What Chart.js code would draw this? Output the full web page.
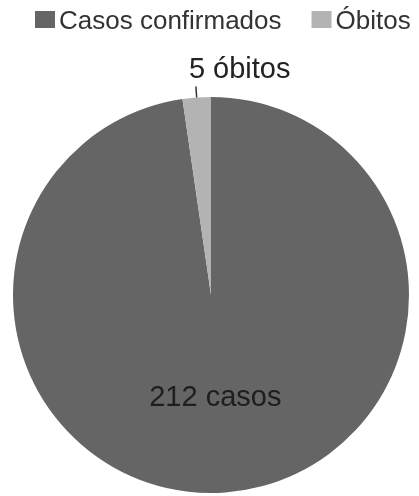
<!DOCTYPE html>
<html><head><meta charset="utf-8">
<script src="https://cdn.jsdelivr.net/npm/chart.js@4"></script>
<style>html,body{margin:0;padding:0;background:#fff}#wrap{width:419px;height:496px}</style>
</head><body><div id="wrap"><canvas id="c" width="419" height="496"></canvas></div>
<script>
const categories = ["Casos confirmados", "Óbitos"];
const values = [212, 5];
const sliceLabels = ["212 casos", "5 óbitos"];
const colors = ["#656565", "#b3b3b3"];
const FONT = "'Liberation Sans', Arial, sans-serif";

const labelPlugin = {
  id: 'customLabels',
  afterDraw(chart) {
    const ctx = chart.ctx;
    const meta = chart.getDatasetMeta(0);
    // legend
    ctx.save();
    ctx.font = "26px " + FONT;
    ctx.textBaseline = "alphabetic";
    let x = 35;
    const boxY = 11, boxW = 20, boxH = 17, base = 29;
    categories.forEach((c, i) => {
      ctx.fillStyle = colors[i];
      ctx.fillRect(x, boxY, boxW, boxH);
      ctx.fillStyle = "#333333";
      ctx.textAlign = "left";
      const tx = x + boxW + 4;
      ctx.fillText(c, tx, base);
      x = tx + ctx.measureText(c).width + 30;
    });
    // slice labels
    meta.data.forEach((arc, i) => {
      const p = arc.getProps(['x','y','startAngle','endAngle','outerRadius'], true);
      const mid = (p.startAngle + p.endAngle) / 2;
      const r = p.outerRadius;
      if (i === 0) {
        ctx.font = "29px " + FONT;
        ctx.fillStyle = "#1e1e1e";
        ctx.textAlign = "center";
        ctx.textBaseline = "alphabetic";
        const lx = p.x + Math.cos(mid) * r * 0.51;
        const ly = p.y + Math.sin(mid) * r * 0.51;
        ctx.fillText(sliceLabels[i], lx - 3, ly + 10);
      } else {
        const x0 = p.x + Math.cos(mid) * r;
        const y0 = p.y + Math.sin(mid) * r;
        const x1 = p.x + Math.cos(mid) * (r + 11);
        const y1 = p.y + Math.sin(mid) * (r + 11);
        ctx.strokeStyle = "#333333";
        ctx.lineWidth = 1.5;
        ctx.beginPath(); ctx.moveTo(x0, y0); ctx.lineTo(x1, y1); ctx.stroke();
        ctx.font = "29px " + FONT;
        ctx.fillStyle = "#222222";
        ctx.textAlign = "left";
        ctx.textBaseline = "alphabetic";
        ctx.fillText(sliceLabels[i], x1 - 7, y1 - 9);
      }
    });
    ctx.restore();
  }
};

new Chart(document.getElementById('c'), {
  type: 'pie',
  data: {
    labels: categories,
    datasets: [{ data: values, backgroundColor: colors, borderWidth: 0 }]
  },
  options: {
    responsive: false,
    animation: false,
    layout: { padding: { top: 97, left: 13, right: 10, bottom: 3 } },
    plugins: { legend: { display: false }, tooltip: { enabled: false } }
  },
  plugins: [labelPlugin]
});
</script></body></html>
